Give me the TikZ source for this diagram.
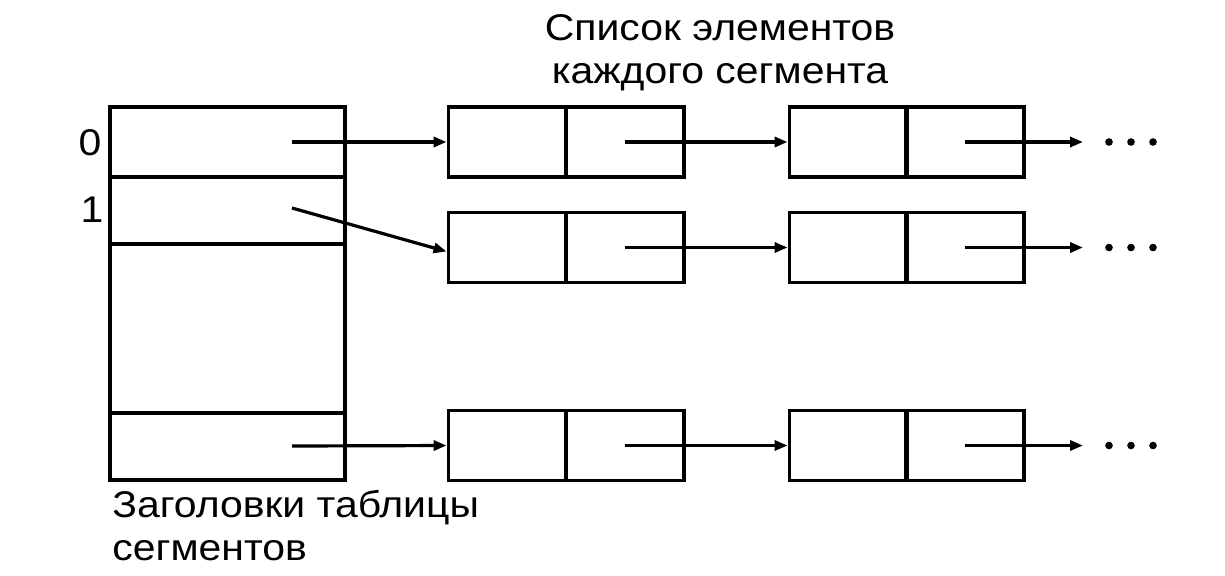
\documentclass[tikz,border=0pt]{standalone}
\usepackage{fontspec}
\setmainfont{Liberation Sans}[FakeStretch=1.1]
\usetikzlibrary{arrows.meta}

\begin{document}
\begin{tikzpicture}[x=0.5pt,y=-0.5pt,
    cell/.style={draw, line width=1.9pt, inner sep=0pt, minimum width=59pt, minimum height=35pt},
    head/.style={draw, line width=1.9pt, inner sep=0pt, minimum width=117.5pt},
    link/.style={line width=1.6pt, -{Triangle[length=6.5pt,width=5pt]}},
    lbl/.style={font=\fontsize{18.6}{21.5}\selectfont, inner sep=0pt}]
    \useasboundingbox (0,0) rectangle (1225,575);
    % table of headers
    \node[head, minimum height=35pt] (h0) at (227.5,142) {};
    \node[head, minimum height=33.5pt] (h1) at (227.5,210.5) {};
    \node[head, minimum height=84.5pt] (hm) at (227.5,328.5) {};
    \node[head, minimum height=33.5pt] (hn) at (227.5,446.5) {};
    \coordinate (s0) at (292,142);
    \coordinate (s1) at (292,208);
    \coordinate (sn) at (292,446);
    \node[lbl, anchor=base] (n0) at (90,155) {0};
    \node[lbl, anchor=base] (n1) at (92,222) {1};
    % lists
    \node[cell] (k01) at (507.5,142) {};
    \node[cell] (p01) at (625,142) {};
    \node[cell] (k02) at (848.5,142) {};
    \node[cell] (p02) at (965,142) {};
    \node[cell] (k11) at (507.5,247.5) {};
    \node[cell] (p11) at (625,247.5) {};
    \node[cell] (k12) at (848.5,247.5) {};
    \node[cell] (p12) at (965,247.5) {};
    \node[cell] (kn1) at (507.5,445.5) {};
    \node[cell] (pn1) at (625,445.5) {};
    \node[cell] (kn2) at (848.5,445.5) {};
    \node[cell] (pn2) at (965,445.5) {};
    \coordinate (e0) at (1083,142);
    \coordinate (e1) at (1083,247.5);
    \coordinate (en) at (1083,445.5);
    \draw[link] (s0) to (k01.west);
    \draw[link] (s1) to ([yshift=-2pt]k11.west);
    \draw[link] (sn) to (kn1.west);
    \draw[link] (p01.center) to (k02.west);
    \draw[link] (p11.center) to (k12.west);
    \draw[link] (pn1.center) to (kn2.west);
    \draw[link] (p02.center) to (e0);
    \draw[link] (p12.center) to (e1);
    \draw[link] (pn2.center) to (en);
    \foreach \e in {e0,e1,en}
        \foreach \dx in {26,48,70}
            \fill ([xshift=\dx*0.5pt]\e) circle (1.9pt);
    % captions
    \node[lbl, anchor=base, align=center] (top) at (720,83) {Список элементов\\каждого сегмента};
    \node[lbl, anchor=base west, align=left] (bot) at (112,560) {Заголовки таблицы\\сегментов};
\end{tikzpicture}
\end{document}
